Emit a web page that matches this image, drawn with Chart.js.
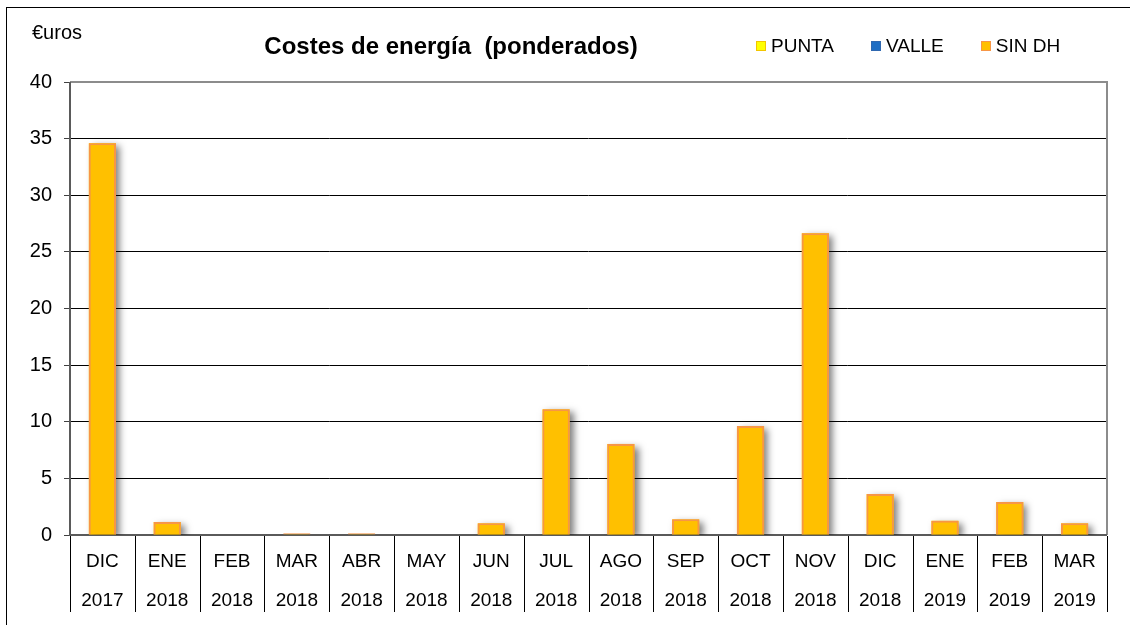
<!DOCTYPE html>
<html><head><meta charset="utf-8">
<script src="https://cdn.jsdelivr.net/npm/chart.js@4.4.1/dist/chart.umd.min.js"></script>
<style>
html,body{margin:0;padding:0;background:#fff;}
#wrap{position:relative;width:1130px;height:625px;overflow:hidden;font-family:"Liberation Sans",Arial,sans-serif;color:#000;}
#frame{position:absolute;left:6px;top:7px;width:1200px;height:700px;border-left:1px solid #000;border-top:1px solid #000;box-sizing:border-box;}
canvas{position:absolute;left:0;top:0;}
#unit{position:absolute;left:32px;top:22px;font-size:20px;line-height:20px;}
#title{position:absolute;left:451px;top:34px;transform:translateX(-50%);font-weight:bold;font-size:24px;line-height:24px;white-space:pre;}
#legend{position:absolute;left:756px;top:36px;display:flex;}
.item{display:flex;align-items:center;margin-right:37px;font-size:19px;line-height:19px;}
.box{width:8px;height:8px;border:1px solid;margin-right:5px;}
</style></head>
<body>
<div id="wrap">
  <canvas id="c" width="1130" height="625"></canvas>
  <div id="frame"></div>
  <div id="unit">€uros</div>
  <div id="title">Costes de energía  (ponderados)</div>
  <div id="legend"></div>
</div>
<script>
const categories = [['DIC','2017'],['ENE','2018'],['FEB','2018'],['MAR','2018'],['ABR','2018'],['MAY','2018'],['JUN','2018'],['JUL','2018'],['AGO','2018'],['SEP','2018'],['OCT','2018'],['NOV','2018'],['DIC','2018'],['ENE','2019'],['FEB','2019'],['MAR','2019']];
const seriesNames = ['PUNTA','VALLE','SIN DH'];
const punta = [0,0,0,0,0,0,0,0,0,0,0,0,0,0,0,0];
const valle = [0,0,0,0,0,0,0,0,0,0,0,0,0,0,0,0];
const sinDH = [34.6,1.15,0,0.15,0.15,0,1.03,11.1,8.04,1.38,9.62,26.65,3.62,1.26,2.91,1.03];
const yMin = 0, yMax = 40, yStep = 5;

const fills = ['#FFFF00','#1F6EC4','#FFC000'];
const borders = ['#F2C500','#2F68B0','#F79646'];

const decor = {
  id:'decor',
  beforeDatasetsDraw(chart){
    const ctx = chart.ctx;
    const a = chart.chartArea;
    ctx.save();
    ctx.lineWidth = 2;
    ctx.strokeStyle = '#8C8C8C';
    ctx.beginPath();
    ctx.moveTo(a.left, a.top); ctx.lineTo(a.right, a.top); ctx.lineTo(a.right, a.bottom);
    ctx.stroke();
    ctx.strokeStyle = '#5A5A5A';
    ctx.beginPath();
    ctx.moveTo(a.right, a.bottom); ctx.lineTo(a.left, a.bottom); ctx.lineTo(a.left, a.top);
    ctx.stroke();
    const xs = chart.scales.x;
    const n = chart.data.labels.length;
    const w = (xs.right - xs.left) / n;
    ctx.lineWidth = 1;
    ctx.strokeStyle = '#000';
    ctx.beginPath();
    for (let i = 0; i <= n; i++) {
      const px = i < n ? xs.getPixelForValue(i) - w/2 : xs.getPixelForValue(n-1) + w/2;
      const x = Math.round(px) + 0.5;
      ctx.moveTo(x, a.bottom + 1); ctx.lineTo(x, 612);
    }
    ctx.stroke();
    ctx.restore();
    // soft shadows behind bars, taken from the library's bar elements
    ctx.save();
    ctx.beginPath();
    ctx.rect(a.left, a.top, a.right - a.left, a.bottom - a.top);
    ctx.clip();
    ctx.shadowColor = 'rgba(0,0,0,0.5)';
    ctx.shadowBlur = 7;
    ctx.shadowOffsetX = 4;
    ctx.shadowOffsetY = 3;
    chart.data.datasets.forEach((ds, di) => {
      const meta = chart.getDatasetMeta(di);
      meta.data.forEach(el => {
        const h = el.base - el.y;
        if (h < 3) return;
        ctx.fillStyle = ds.backgroundColor;
        ctx.fillRect(el.x - el.width/2, el.y, el.width, h);
      });
    });
    ctx.restore();
  }
};

const chart = new Chart(document.getElementById('c'), {
  type:'bar',
  data:{
    labels: categories,
    datasets:[
      {label:seriesNames[0], data:punta, backgroundColor:fills[0], borderColor:borders[0], borderWidth:0},
      {label:seriesNames[1], data:valle, backgroundColor:fills[1], borderColor:borders[1], borderWidth:0},
      {label:seriesNames[2], data:sinDH, backgroundColor:fills[2], borderColor:borders[2], borderWidth:2}
    ]
  },
  options:{
    responsive:false, animation:false, devicePixelRatio:1,
    layout:{padding:{left:0,right:23,top:82,bottom:0}},
    datasets:{bar:{grouped:false, categoryPercentage:1, barPercentage:0.42}},
    plugins:{legend:{display:false}, tooltip:{enabled:false}, title:{display:false}},
    scales:{
      x:{
        grid:{display:false, drawTicks:false},
        border:{display:false},
        ticks:{color:'#000', font:{family:'"Liberation Sans", Arial, sans-serif', size:19, lineHeight:39/19}, padding:7.5, maxRotation:0, autoSkip:false},
        afterFit(s){ s.height = 90; }
      },
      y:{
        min:yMin, max:yMax,
        ticks:{stepSize:yStep, color:'#000', font:{family:'"Liberation Sans", Arial, sans-serif', size:20}, padding:12},
        grid:{
          color:(c)=> (c.tick && (c.tick.value===yMin || c.tick.value===yMax)) ? 'rgba(0,0,0,0)' : '#000',
          lineWidth:1, tickLength:6, tickColor:'#404040', drawTicks:true
        },
        border:{display:false},
        afterFit(s){ s.width = 70; }
      }
    }
  },
  plugins:[decor]
});

const lg = document.getElementById('legend');
chart.data.datasets.forEach(ds => {
  const it = document.createElement('div'); it.className='item';
  const b = document.createElement('span'); b.className='box';
  b.style.background = ds.backgroundColor; b.style.borderColor = ds.borderColor;
  const t = document.createElement('span'); t.textContent = ds.label;
  it.appendChild(b); it.appendChild(t); lg.appendChild(it);
});
</script>
</body></html>
